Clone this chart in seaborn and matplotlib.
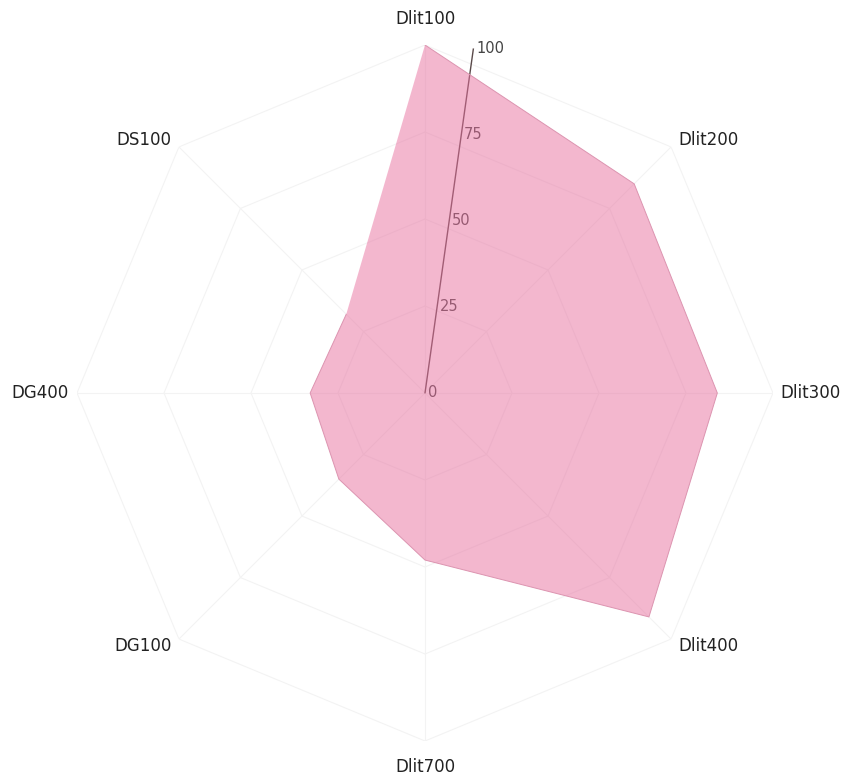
import numpy as np
import matplotlib
matplotlib.use("Agg")
import matplotlib.pyplot as plt
import seaborn as sns

# categories clockwise from the top
categories = ["Dlit100", "Dlit200", "Dlit300", "Dlit400", "Dlit700", "DG100", "DG400", "DS100"]
values = [100, 85, 84, 91, 48, 35, 33, 32]
radial_ticks = [0, 25, 50, 75, 100]

sns.set_theme(style="white")
plt.rcParams["font.family"] = ["DejaVu Sans"]

fig = plt.figure(figsize=(8.46, 7.79), dpi=100)
W, H = 846, 779
cx, cy, R = 425, 393, 348
ax = fig.add_axes([(cx - R) / W, (H - cy - R) / H, 2 * R / W, 2 * R / H], projection="polar")
ax.set_theta_zero_location("N")
ax.set_theta_direction(-1)
ax.set_ylim(0, 100)
ax.grid(False)
ax.set_xticks([])
ax.set_yticks([])
ax.spines["polar"].set_visible(False)
ax.set_facecolor("none")

n = len(categories)
theta = np.arange(n) * 2 * np.pi / n
theta_c = np.append(theta, theta[0])

# polygon grid + spokes (very faint)
for lv in radial_ticks[1:]:
    ax.plot(theta_c, [lv] * (n + 1), color="#f3f3f3", lw=0.8, zorder=1)
for t in theta:
    ax.plot([t, t], [0, 100], color="#f3f3f3", lw=0.8, zorder=1)

# radial axis, slightly tilted
tilt = np.deg2rad(8)
ax.plot([tilt, tilt], [0, 101], color="#5a4a4a", lw=1.0, zorder=2)
for v in radial_ticks:
    ax.annotate(str(v), xy=(tilt, v), xytext=(2, 0), textcoords="offset points",
                ha="left", va="center", fontsize=10.5, color="#444444", zorder=2)

# data
vals_c = values + [values[0]]
ax.fill(theta_c, vals_c, color="#e8709f", alpha=0.5, zorder=3, lw=0)
sns.lineplot(x=theta_c, y=vals_c, ax=ax, sort=False, color="#dc94b0", lw=0.7, zorder=4)

# category labels
align = [("center", "bottom", 105), ("left", "center", 103), ("left", "center", 102),
         ("left", "center", 103), ("center", "top", 105), ("right", "center", 103),
         ("right", "center", 102.5), ("right", "center", 103)]
for t, lab, (ha, va, r) in zip(theta, categories, align):
    ax.text(t, r, lab, ha=ha, va=va, fontsize=12, color="#222222", clip_on=False)

ax.set_xlabel("")
ax.set_ylabel("")
fig.savefig("out.png", dpi=100)
